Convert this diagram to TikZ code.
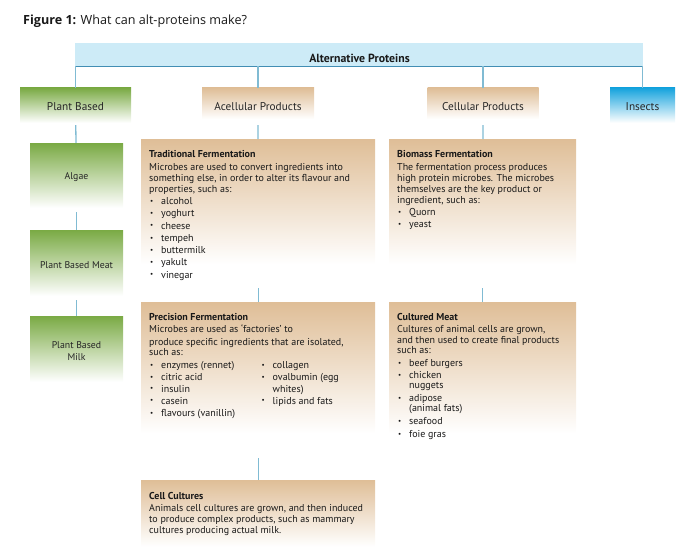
\documentclass[tikz,border=0pt]{standalone}
\usepackage{fontspec}
\setmainfont{PT Sans}
\newfontfamily\titlefont{Open Sans}
\usepackage{graphicx}
\usepackage{xcolor}

\definecolor{greenC}{RGB}{122,170,68}
\definecolor{tanC}{RGB}{223,190,151}
\definecolor{insectC}{RGB}{22,163,221}
\definecolor{barC}{RGB}{205,235,247}
\definecolor{busC}{RGB}{66,142,180}
\definecolor{linkC}{RGB}{128,187,211}

% fading fills, colour on top, white below
\pgfdeclareverticalshading{tanfade}{100bp}{color(0bp)=(white); color(33bp)=(white); color(75bp)=(tanC); color(100bp)=(tanC)}
\pgfdeclareverticalshading{greenfade}{100bp}{color(0bp)=(white); color(28bp)=(white); color(75bp)=(greenC); color(100bp)=(greenC)}
\pgfdeclareverticalshading{insectfade}{100bp}{color(0bp)=(white); color(28bp)=(white); color(75bp)=(insectC); color(100bp)=(insectC)}

% small bullet with hanging space
\newcommand\bl{\makebox[12pt][l]{\hspace{1pt}\raisebox{.25ex}{\scalebox{.7}{\textbullet}}}}
\newcommand\hg{\hspace*{12pt}}

\begin{document}
\begin{tikzpicture}[x=1pt,y=1pt,yscale=-1,
    catbox/.style={shading=#1,draw=none,inner sep=0pt,
      align=center,text=black!85,font=\fontsize{11.3}{12.5}\selectfont},
    subbox/.style={catbox=greenfade,font=\fontsize{9.8}{11.5}\selectfont,minimum width=93pt},
    infobox/.style={shading=tanfade,draw=none,inner sep=0pt,anchor=north west},
    infotext/.style={anchor=north west,inner sep=0pt,align=left,text=black!90,
      font=\fontsize{10}{11}\selectfont},
    link/.style={draw=linkC,line width=1.3pt},
    bus/.style={draw=busC,line width=1.3pt}]
\useasboundingbox (0,0) rectangle (684,559);

% Title
\node[anchor=west,inner sep=0pt,text=black!90,font=\titlefont\fontsize{12.6}{14}\selectfont] (fig) at (23,21)
  {\textbf{Figure 1:} What can alt-proteins make?};

% Top bar
\node[fill=barC,anchor=north west,inner sep=0pt,minimum width=568pt,minimum height=23pt] (alt) at (75,43) {};
\node[inner sep=0pt,text=black!90,font=\fontsize{11.8}{13}\selectfont\bfseries] (alttext) at (359.5,58) {Alternative Proteins};

% Categories
\node[catbox=greenfade,minimum width=111pt,minimum height=37pt] (plant) at (75.5,106.5) {Plant Based};
\node[catbox=tanfade,minimum width=112pt,minimum height=37pt] (acell) at (258,106.5) {Acellular Products};
\node[catbox=tanfade,minimum width=111pt,minimum height=37pt] (cell) at (483,106.5) {Cellular Products};
\node[catbox=insectfade,minimum width=65pt,minimum height=37pt] (insects) at (642.5,106.5) {Insects};

% Plant based column
\node[subbox,minimum height=69pt] (algae) at (76.5,177.5) {Algae};
\node[subbox,minimum height=70pt] (pbmeat) at (76.5,265) {Plant Based Meat};
\node[subbox,minimum height=70pt] (pbmilk) at (76.5,351) {Plant Based\\Milk};

% Acellular column
\node[infobox,minimum width=234pt,minimum height=149pt] (trad) at (141,139) {};
\node[infotext] (tradtext) at (149,150) {%
  \textbf{Traditional Fermentation}\\[2pt]
  Microbes are used to convert ingredients into\\
  something else, in order to alter its flavour and\\
  properties, such as:\\[1.4pt]
  \bl alcohol\\[1.2pt]
  \bl yoghurt\\[1.2pt]
  \bl cheese\\[1.2pt]
  \bl tempeh\\[1.2pt]
  \bl buttermilk\\[1.2pt]
  \bl yakult\\[1.4pt]
  \bl vinegar};

\node[infobox,minimum width=234pt,minimum height=156pt] (prec) at (141,302) {};
\node[infotext] (prectext) at (149,313) {%
  \textbf{Precision Fermentation}\\[1pt]
  Microbes are used as ‘factories’ to\\[2pt]
  produce specific ingredients that are isolated,\\[-1pt]
  such as:\\[2pt]
  \begin{tabular}[t]{@{}p{111.5pt}@{}l@{}}
    \bl enzymes (rennet) & \bl collagen\\[1.2pt]
    \bl citric acid & \bl ovalbumin (egg\\[0.5pt]
    \bl insulin & \hg whites)\\[1.2pt]
    \bl casein & \bl lipids and fats\\[1.4pt]
    \bl flavours (vanillin) &
  \end{tabular}};

\node[infobox,minimum width=234pt,minimum height=79pt] (cellc) at (141,480) {};
\node[infotext] (cellctext) at (149,492) {%
  \textbf{Cell Cultures}\\[1pt]
  Animals cell cultures are grown, and then induced\\
  to produce complex products, such as mammary\\
  cultures producing actual milk.};

% Cellular column
\node[infobox,minimum width=187pt,minimum height=149pt] (bio) at (389,139) {};
\node[infotext] (biotext) at (397,150) {%
  \textbf{Biomass Fermentation}\\[2pt]
  The fermentation process produces\\
  high protein microbes. The microbes\\
  themselves are the key product or\\
  ingredient, such as:\\[1pt]
  \bl Quorn\\[1.5pt]
  \bl yeast};

\node[infobox,minimum width=187pt,minimum height=156pt] (cult) at (389,302) {};
\node[infotext] (culttext) at (397,313) {%
  \textbf{Cultured Meat}\\[1pt]
  Cultures of animal cells are grown,\\
  and then used to create final products\\[-1pt]
  such as:\\[2pt]
  \bl beef burgers\\[1.5pt]
  \bl chicken\\[-1pt]
  \hg nuggets\\[2pt]
  \bl adipose\\[-1pt]
  \hg (animal fats)\\[1.5pt]
  \bl seafood\\[2.5pt]
  \bl foie gras};

% Connectors
\draw[bus] (plant.north |- alt.south) -- (insects.north |- alt.south);
\draw[link] (plant.north |- alt.south) -- (plant.north);
\draw[link] (acell.north |- alt.south) -- (acell.north);
\draw[link] (cell.north |- alt.south) -- (cell.north);
\draw[link] (insects.north |- alt.south) -- (insects.north);

\draw[link] (plant) -- (algae);
\draw[link] (algae) -- (pbmeat);
\draw[link] (pbmeat) -- (pbmilk);

\draw[link] (acell) -- (trad);
\draw[link] (trad) -- (prec);
\draw[link] (prec) -- (cellc);

\draw[link] (cell) -- (bio);
\draw[link] (bio) -- (cult);
\end{tikzpicture}
\end{document}
